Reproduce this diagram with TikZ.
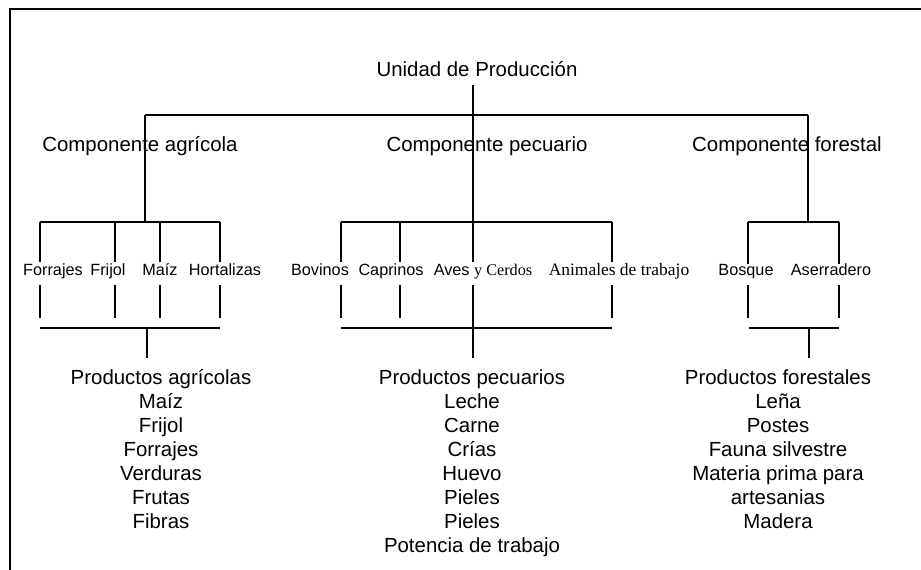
\documentclass[tikz,border=0pt]{standalone}
\usepackage{fontspec}
\setmainfont{Liberation Sans}
\newfontfamily\tmsfont{Liberation Serif}
\begin{document}
\begin{tikzpicture}[x=1bp,y=-1bp,
  big/.style={font=\fontsize{20.5}{24.1}\selectfont, inner sep=0pt, align=center},
  small/.style={font=\fontsize{16.3}{18}\selectfont, inner sep=0pt, anchor=base},
  conn/.style={line width=1.4bp, black},
  frame/.style={line width=2.6bp, black}]
\useasboundingbox (0,0) rectangle (921,570);
% frame
\coordinate (fTR) at (921,9);
\coordinate (fTL) at (10,9);
\coordinate (fBL) at (10,570);
\draw[frame] (fTR) -- (fTL) -- (fBL);

% coordinates
\coordinate (u0) at (473,85);
\coordinate (uj) at (473,115);
\coordinate (aT) at (145,115);
\coordinate (fT) at (808,115);
\coordinate (aJ) at (145,222);
\coordinate (pJ) at (473,222);
\coordinate (fJ) at (808,222);
% agri branch
\foreach \n/\x in {a1/40,a2/115,a3/160,a4/220}{
  \coordinate (\n t) at (\x,222);
  \coordinate (\n u) at (\x,262);
  \coordinate (\n l) at (\x,285);
  \coordinate (\n b) at (\x,318);
}
\coordinate (aBL) at (40,328);
\coordinate (aBR) at (220,328);
\coordinate (aD) at (147,328);
\coordinate (aE) at (147,358);
% pecuario branch
\foreach \n/\x in {p1/341,p2/400,p3/473,p4/612}{
  \coordinate (\n t) at (\x,222);
  \coordinate (\n u) at (\x,262);
  \coordinate (\n l) at (\x,285);
  \coordinate (\n b) at (\x,318);
}
\coordinate (pBL) at (341,328);
\coordinate (pBR) at (612,328);
\coordinate (pD) at (473,328);
\coordinate (pE) at (473,358);
% forestal branch
\foreach \n/\x in {f1/748,f2/839}{
  \coordinate (\n t) at (\x,222);
  \coordinate (\n u) at (\x,264);
  \coordinate (\n l) at (\x,285);
  \coordinate (\n b) at (\x,318);
}
\coordinate (fBL2) at (749,328);
\coordinate (fBR) at (839,328);
\coordinate (fD) at (809,328);
\coordinate (fE) at (809,358);

% connectors
\draw[conn] (u0) -- (uj);
\draw[conn] (aT) -- (fT);
\draw[conn] (aT) -- (aJ);
\draw[conn] (fT) -- (fJ);
\draw[conn] (uj) -- (pJ);
\draw[conn] (a1t) -- (a4t);
\draw[conn] (p1t) -- (p4t);
\draw[conn] (f1t) -- (f2t);
\foreach \n in {a1,a2,a3,a4,p1,p2,p3,p4,f1,f2}{
  \draw[conn] (\n t) -- (\n u);
  \draw[conn] (\n l) -- (\n b);
}
\draw[conn] (aBL) -- (aBR);
\draw[conn] (pBL) -- (pBR);
\draw[conn] (fBL2) -- (fBR);
\draw[conn] (aD) -- (aE);
\draw[conn] (p3b) -- (pE);
\draw[conn] (fD) -- (fE);

% texts
\node[big] (unidad) at (477,69) {Unidad de Producción};
\node[big] (cagri) at (140,146) {Componente agrícola};
\node[big] (cpec) at (487,146) {Componente pecuario};
\node[big] (cfor) at (787,146) {Componente forestal};

\node[small] (forr) at (53,276) {Forrajes};
\node[small] (frij) at (108,276) {Frijol};
\node[small] (maiz) at (160,276) {Maíz};
\node[small] (hort) at (225,276) {Hortalizas};

\node[small] (bov) at (320,276) {Bovinos};
\node[small] (cap) at (391,276) {Caprinos};
\node[small] (aves) at (483,276) {Aves {\tmsfont y Cerdos}};
\node[small] (anim) at (619,276) {\tmsfont\fontsize{17.5}{19}\selectfont Animales de trabajo};

\node[small] (bosq) at (746,276) {Bosque};
\node[small] (aser) at (831,276) {Aserradero};

\node[big, anchor=north] (pagri) at (161,369) {Productos agrícolas\\Maíz\\Frijol\\Forrajes\\Verduras\\Frutas\\Fibras};
\node[big, anchor=north] (ppec) at (472,369) {Productos pecuarios\\Leche\\Carne\\Crías\\Huevo\\Pieles\\Pieles\\Potencia de trabajo};
\node[big, anchor=north] (pfor) at (778,369) {Productos forestales\\Leña\\Postes\\Fauna silvestre\\Materia prima para\\artesanias\\Madera};
\end{tikzpicture}
\end{document}
